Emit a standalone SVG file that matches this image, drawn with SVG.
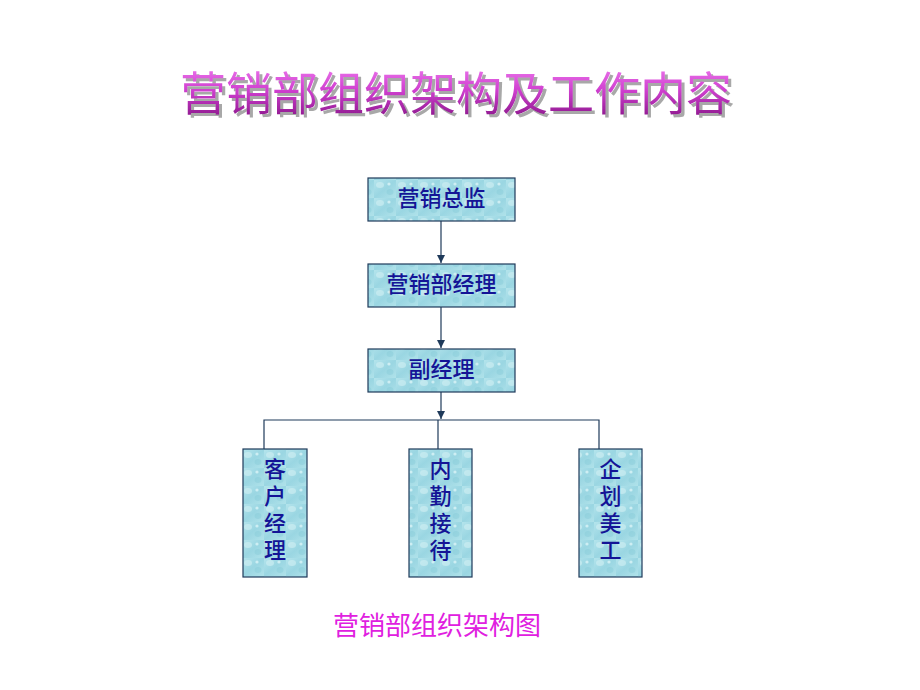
<svg xmlns="http://www.w3.org/2000/svg" width="920" height="690" viewBox="0 0 920 690">
<defs>
<linearGradient id="tg" x1="0" y1="0" x2="0" y2="1">
<stop offset="0" stop-color="#f68af6"/>
<stop offset="0.5" stop-color="#d040d0"/>
<stop offset="1" stop-color="#801080"/>
</linearGradient>
<linearGradient id="bg" x1="0" y1="0" x2="1" y2="1">
<stop offset="0" stop-color="#b4e4ec"/>
<stop offset="0.5" stop-color="#9ad6e2"/>
<stop offset="1" stop-color="#b0e2ea"/>
</linearGradient>
<pattern id="drops" width="22" height="18" patternUnits="userSpaceOnUse">
<rect width="22" height="18" fill="url(#bg)"/>
<ellipse cx="6" cy="5" rx="4" ry="3" fill="#d2f0f4" opacity="0.6"/>
<ellipse cx="16" cy="12" rx="3.5" ry="3" fill="#7fc4d2" opacity="0.35"/>
<circle cx="15" cy="4" r="1.6" fill="#e4f8fa" opacity="0.7"/>
</pattern>
<filter id="sh" x="-5%" y="-20%" width="110%" height="150%">
<feDropShadow dx="3" dy="3" stdDeviation="0.6" flood-color="#a8a8a8" flood-opacity="1"/>
</filter>
<marker id="arr" markerWidth="10" markerHeight="10" refX="8" refY="5" orient="auto" markerUnits="userSpaceOnUse">
<path d="M0,1 L8,5 L0,9 Z" fill="#1f3a5a"/>
</marker>
<style>
.box{fill:url(#drops);stroke:#1f3a5a;stroke-width:1.2}
.bt{font-family:"Liberation Serif","Noto Sans CJK SC",serif;font-size:22px;font-weight:500;fill:#141496;text-anchor:middle}
.ln{stroke:#1f3a5a;stroke-width:1.2;fill:none}
</style>
</defs>
<rect width="920" height="690" fill="#ffffff"/>
<g id="title">
<text x="456" y="110" font-family="'Noto Sans CJK SC',sans-serif" font-size="46" text-anchor="middle" fill="url(#tg)" filter="url(#sh)">营销部组织架构及工作内容</text>
</g>
<g id="connectors">
<line class="ln" x1="441" y1="221" x2="441" y2="263" marker-end="url(#arr)"/>
<line class="ln" x1="441" y1="307" x2="441" y2="348" marker-end="url(#arr)"/>
<line class="ln" x1="441" y1="392" x2="441" y2="419" marker-end="url(#arr)"/>
<polyline class="ln" points="264,449 264,420 599,420 599,449"/>
<line class="ln" x1="438" y1="420" x2="438" y2="449"/>
</g>
<g id="n1"><rect class="box" x="368" y="178" width="147" height="43"/><text class="bt" x="441.5" y="206">营销总监</text></g>
<g id="n2"><rect class="box" x="368" y="264" width="147" height="43"/><text class="bt" x="441.5" y="292">营销部经理</text></g>
<g id="n3"><rect class="box" x="368" y="349" width="147" height="43"/><text class="bt" x="441.5" y="377">副经理</text></g>
<g id="n4"><rect class="box" x="243" y="449" width="64" height="128"/>
<text class="bt" x="275" y="477">客</text><text class="bt" x="275" y="504">户</text><text class="bt" x="275" y="531">经</text><text class="bt" x="275" y="558">理</text></g>
<g id="n5"><rect class="box" x="409" y="449" width="63" height="128"/>
<text class="bt" x="440.5" y="477">内</text><text class="bt" x="440.5" y="504">勤</text><text class="bt" x="440.5" y="531">接</text><text class="bt" x="440.5" y="558">待</text></g>
<g id="n6"><rect class="box" x="579" y="449" width="63" height="128"/>
<text class="bt" x="610.5" y="477">企</text><text class="bt" x="610.5" y="504">划</text><text class="bt" x="610.5" y="531">美</text><text class="bt" x="610.5" y="558">工</text></g>
<g id="caption"><text x="437" y="635" font-family="'Noto Sans CJK SC',sans-serif" font-size="26" fill="#e020e0" text-anchor="middle">营销部组织架构图</text></g>
</svg>
